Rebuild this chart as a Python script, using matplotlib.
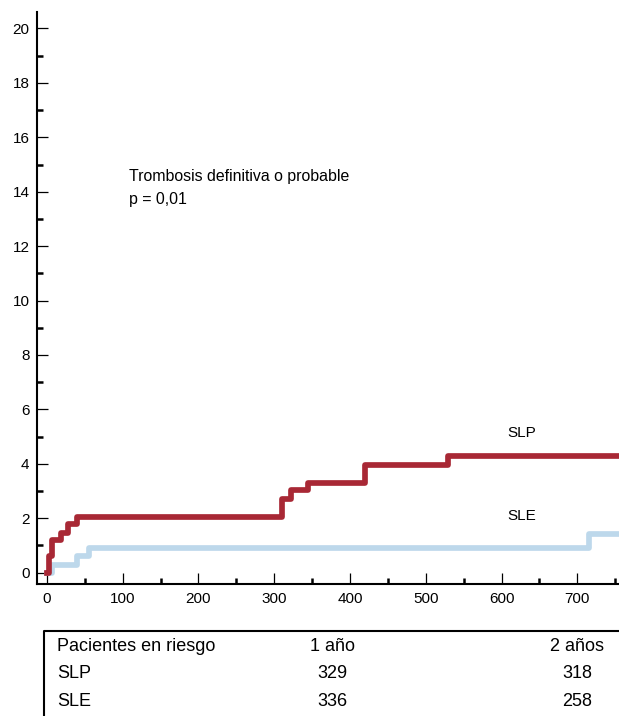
import matplotlib.pyplot as plt
from matplotlib.ticker import MultipleLocator

plt.rcParams['font.family'] = ['Liberation Sans', 'DejaVu Sans']

# Cumulative incidence curves (days, %)
slp_days = [0, 3, 7, 18, 28, 40, 310, 322, 345, 420, 529, 760]
slp_pct = [0, 0.6, 1.2, 1.47, 1.78, 2.06, 2.7, 3.02, 3.3, 3.95, 4.28, 4.28]
sle_days = [0, 7, 40, 55, 715, 760]
sle_pct = [0, 0.28, 0.59, 0.9, 1.4, 1.4]

# Patients at risk table
risk_header = ["Pacientes en riesgo", "1 año", "2 años"]
risk_groups = ["SLP", "SLE"]
risk_1y = [329, 336]
risk_2y = [318, 258]

red = "#A82835"
blue = "#BDD8EB"

fig = plt.figure(figsize=(6.19, 7.16), dpi=100)
ax = fig.add_axes([0.0598, 0.1844, 0.9402, 0.7986])

ax.step(slp_days, slp_pct, where="post", color=red, lw=4.1, zorder=3)
ax.step(sle_days, sle_pct, where="post", color=blue, lw=4.1, zorder=2)

ax.set_xlim(-13, 755)
ax.set_ylim(-0.42, 20.6)
ax.xaxis.set_major_locator(MultipleLocator(100))
ax.xaxis.set_minor_locator(MultipleLocator(50))
ax.yaxis.set_major_locator(MultipleLocator(2))
ax.yaxis.set_minor_locator(MultipleLocator(1))
ax.set_xticks(range(0, 701, 100))
ax.tick_params(which="major", direction="in", length=8, width=0.9, labelsize=11, pad=5.5)
ax.tick_params(which="minor", direction="in", length=4.5, width=1.8)
for s in ["top", "right"]:
    ax.spines[s].set_visible(False)
for s in ["left", "bottom"]:
    ax.spines[s].set_linewidth(1.5)

ax.text(108, 14.41, "Trombosis definitiva o probable", fontsize=11.4)
ax.text(108, 13.55, "p = 0,01", fontsize=11.4)
ax.text(626, 4.98, "SLP", fontsize=11, ha="center")
ax.text(626, 1.94, "SLE", fontsize=11, ha="center")

# table area (pixel-like coordinates)
tab = fig.add_axes([0.0678, 0.0, 0.9322, 0.12])
tab.set_xlim(42, 619)
tab.set_ylim(716, 630)
tab.axis("off")
tab.plot([44, 44, 619], [716, 630.7, 630.7], color="black", lw=1.5, clip_on=False)
cols_x = [57, 332.5, 577]
rows_y = [650.7, 678.3, 706]
tab.text(cols_x[0], rows_y[0], risk_header[0], fontsize=13, va="baseline")
tab.text(cols_x[1], rows_y[0], risk_header[1], fontsize=13, va="baseline", ha="center")
tab.text(cols_x[2], rows_y[0], risk_header[2], fontsize=13, va="baseline", ha="center")
for i, g in enumerate(risk_groups):
    tab.text(cols_x[0], rows_y[i + 1], g, fontsize=13, va="baseline")
    tab.text(cols_x[1], rows_y[i + 1], str(risk_1y[i]), fontsize=13, va="baseline", ha="center")
    tab.text(cols_x[2], rows_y[i + 1], str(risk_2y[i]), fontsize=13, va="baseline", ha="center")

fig.savefig("out.png", dpi=100)
